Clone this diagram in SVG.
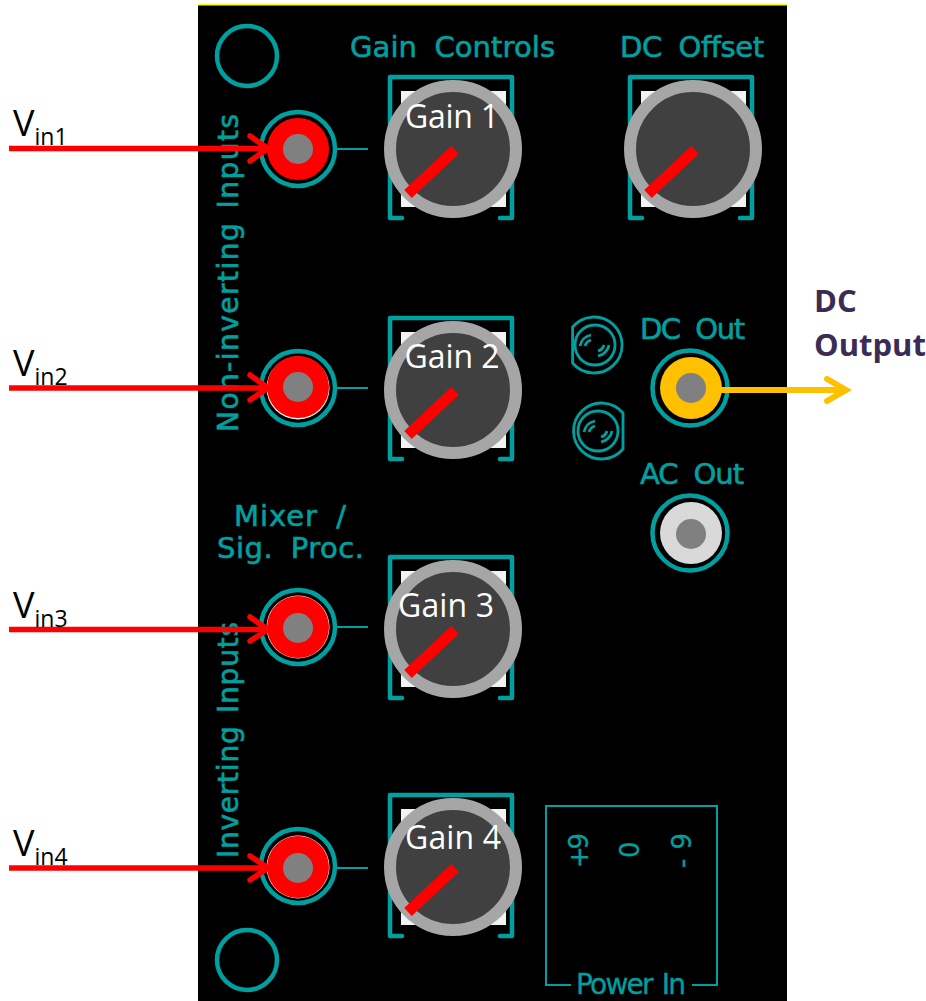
<svg xmlns="http://www.w3.org/2000/svg" width="926" height="1001" viewBox="0 0 926 1001">
<style>
.pcb{font-family:"DejaVu Sans",sans-serif;fill:#00a0a0;stroke:#00a0a0;stroke-width:.6;font-size:29px;word-spacing:8px}
.side{font-size:28px;word-spacing:3px}
.ring{fill:none;stroke:#00a0a0;stroke-width:4.5}
.thin{fill:none;stroke:#00a0a0;stroke-width:2}
.tr{fill:none;stroke:#00a0a0;stroke-width:2.800}
.br{fill:none;stroke:#00a0a0;stroke-width:4.5;stroke-linejoin:round;stroke-linecap:round}
.knob{fill:#404040;stroke:#a6a6a6;stroke-width:12}
.needle{stroke:#f00;stroke-width:11}
.gl{font-family:"Open Sans","Liberation Sans",sans-serif;fill:#fff;font-size:32px;text-anchor:middle}
.v{font-family:"Open Sans","Liberation Sans",sans-serif;fill:#000;font-size:36px}
.sub{font-size:23px}
.out{font-family:"Open Sans","Liberation Sans",sans-serif;font-weight:700;fill:#3b2c55;font-size:31px}
.w{stroke:#f00;stroke-width:5.500;fill:none}
.h{stroke:#f00;stroke-width:5.500;fill:none;stroke-linecap:round}
.core{fill:#808080}
</style>
<defs>
<g id="pot">
<rect x="-52" y="-58" width="105" height="116" fill="#f2f2f2"/>
<path class="br" d="M-51 69H-63V-72H59V69H47"/>
<circle class="knob" r="63"/>
<line class="needle" x1="2" y1="1" x2="-45" y2="45"/>
</g>
</defs>
<rect id="panel" x="198" y="5" width="589" height="996" fill="#000"/>
<line x1="198" y1="4.500" x2="787" y2="4.500" stroke="#ffff00" stroke-width="2"/>
<circle class="ring" cx="247" cy="56" r="30"/>
<circle class="ring" cx="247" cy="960" r="30"/>
<text class="pcb" x="350" y="57" textLength="205">Gain Controls</text>
<text class="pcb" x="620" y="57" textLength="144">DC Offset</text>
<text class="pcb" x="640" y="339" textLength="105">DC Out</text>
<text class="pcb" x="640" y="484" textLength="104">AC Out</text>
<text class="pcb" x="234" y="526" textLength="112">Mixer /</text>
<text class="pcb" x="217" y="558" textLength="147">Sig. Proc.</text>
<text class="pcb side" transform="translate(238 432) rotate(-90)" textLength="318">Non-inverting Inputs</text>
<text class="pcb side" transform="translate(238 858) rotate(-90)" textLength="236">Inverting Inputs</text>
<g id="powerbox">
<path class="thin" d="M571 985H546V806H717V985H692"/>
<text class="pcb side" x="576" y="994" textLength="110" style="stroke-width:.3">Power In</text>
<text class="pcb" transform="translate(588 868) rotate(-90)" style="font-size:26px;stroke-width:.3" textLength="35">+9</text>
<text class="pcb" transform="translate(639 858) rotate(-90)" style="font-size:26px;stroke-width:.3">0</text>
<text class="pcb" transform="translate(691 868) rotate(-90)" style="font-size:26px;stroke-width:.3" textLength="35">-9</text>
</g>
<g id="trimmers">
<g id="trim1"><path class="tr" d="M572.600 327A28 28 0 1 1 572.600 363Z"/><circle class="tr" cx="595" cy="345" r="20"/><path class="tr" d="M580 346a14 14 0 0 1 11-11M585 346a9 9 0 0 1 6-6M609 345a14 14 0 0 1-11 11M604 345a9 9 0 0 1-6 6"/></g>
<g id="trim2"><path class="tr" d="M623 413A28 28 0 1 0 623 449Z"/><circle class="tr" cx="598" cy="431" r="20"/><path class="tr" d="M584 432a14 14 0 0 1 11-11M589 432a9 9 0 0 1 6-6M612 431a14 14 0 0 1-11 11M607 431a9 9 0 0 1-6 6"/></g>
</g>
<g id="jack1"><circle class="ring" cx="298" cy="149" r="37"/><path class="thin" d="M337 149H368"/><circle cx="298" cy="149" r="31" fill="#f00"/><circle class="core" cx="298" cy="149" r="15"/></g>
<g id="jack2"><circle class="ring" cx="298" cy="388" r="37"/><path class="thin" d="M337 388H368"/><circle cx="298" cy="388" r="31.500" fill="#fff"/><circle cx="298" cy="387" r="31" fill="#f00"/><circle class="core" cx="298" cy="387" r="15"/></g>
<g id="jack3"><circle class="ring" cx="298" cy="627" r="37"/><path class="thin" d="M337 627H368"/><circle cx="298" cy="627" r="31.500" fill="#fff"/><circle cx="298" cy="627" r="31" fill="#f00"/><circle class="core" cx="298" cy="628" r="15"/></g>
<g id="jack4"><circle class="ring" cx="298" cy="866" r="37"/><path class="thin" d="M337 868H368"/><circle cx="298" cy="867" r="31.500" fill="#fff"/><circle cx="298" cy="867" r="31" fill="#f00"/><circle class="core" cx="298" cy="868" r="15"/></g>
<g id="jack-dc"><circle class="ring" cx="690" cy="388" r="37.500"/><circle cx="691" cy="388" r="31" fill="#ffc000"/><circle class="core" cx="691" cy="388" r="15"/></g>
<g id="jack-ac"><circle class="ring" cx="690" cy="533" r="37.500"/><circle cx="691" cy="533" r="31" fill="#d9d9d9"/><circle class="core" cx="691" cy="534" r="15"/></g>
<g id="pot1"><use href="#pot" x="453" y="149"/><text class="gl" x="452" y="128" textLength="94">Gain 1</text></g>
<g id="pot-dc"><use href="#pot" x="693" y="149"/></g>
<g id="pot2"><use href="#pot" x="453" y="390"/><text class="gl" x="452" y="368" textLength="95">Gain 2</text></g>
<g id="pot3"><use href="#pot" x="453" y="629"/><text class="gl" x="446" y="617" textLength="96">Gain 3</text></g>
<g id="pot4"><use href="#pot" x="453" y="867"/><text class="gl" x="453" y="849" textLength="96">Gain 4</text></g>
<g id="connectors">
<path class="w" d="M9 148.500H268"/><path class="h" d="M250 136L268 148.500L250 161"/>
<path class="w" d="M9 388H268"/><path class="h" d="M250 375L268 388L250 400"/>
<path class="w" d="M9 629.500H268"/><path class="h" d="M250 617L268 629.500L250 641"/>
<path class="w" d="M9 868H268"/><path class="h" d="M250 856L268 868L250 880"/>
<path d="M720 390H846" stroke="#ffc000" stroke-width="6" fill="none"/><path d="M827 379L846 390L827 401" stroke="#ffc000" stroke-width="6" fill="none" stroke-linecap="round"/>
</g>
<g id="labels">
<text class="v" x="13" y="136">V<tspan class="sub" dy="9">in1</tspan></text>
<text class="v" x="13" y="376">V<tspan class="sub" dy="9">in2</tspan></text>
<text class="v" x="13" y="618">V<tspan class="sub" dy="9">in3</tspan></text>
<text class="v" x="13" y="856">V<tspan class="sub" dy="9">in4</tspan></text>
<text class="out" x="814" y="312">DC</text>
<text class="out" x="814" y="356">Output</text>
</g>
</svg>
